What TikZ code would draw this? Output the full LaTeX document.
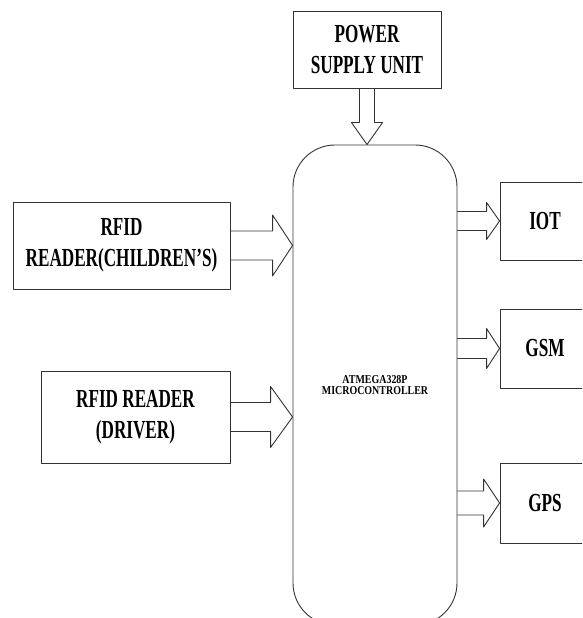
\documentclass[tikz,border=0pt]{standalone}
\usepackage{fontspec}
\usetikzlibrary{calc}
\newfontfamily\boxfont[FakeStretch=0.66]{Liberation Serif}
\newfontfamily\chipfont[FakeStretch=0.83]{Liberation Serif}

\tikzset{
	blk/.style={draw=black!80, line width=0.9pt, align=center, inner sep=0pt,
		font=\boxfont\bfseries\fontsize{26}{31}\selectfont},
	chip/.style={draw=black!80, line width=0.9pt, align=center, inner sep=0pt,
		rounded corners=42pt, font=\chipfont\bfseries\fontsize{12}{11.5}\selectfont},
	conn/.style={draw=black!80, line width=0.9pt}
}

% tail, tip, half shaft, half head, head length
\newcommand{\hollowarrow}[5]{%
	\path (#1) coordinate (aT) (#2) coordinate (aH);
	\path ($(aH)!#5pt!(aT)$) coordinate (aN);
	\draw[conn] ($(aT)!#3pt!90:(aH)$) -- ($(aN)!#3pt!90:(aH)$) -- ($(aN)!#4pt!90:(aH)$) -- (aH)
	-- ($(aN)!#4pt!-90:(aH)$) -- ($(aN)!#3pt!-90:(aH)$) -- ($(aT)!#3pt!-90:(aH)$);
}

\begin{document}
\begin{tikzpicture}[x=1pt, y=1pt, line join=round, line cap=round]
	\clip (0,0) rectangle (582,618);
	\node[blk, minimum width=148, minimum height=77] (pwr) at (367,568.5) {POWER\\SUPPLY UNIT};
	\node[chip, minimum width=164, minimum height=480] (mcu) at (375,233) {ATMEGA328P\\MICROCONTROLLER};
	\node[blk, minimum width=217, minimum height=87] (rfidc) at (121.5,372.5) {RFID\\READER(CHILDREN’S)};
	\node[blk, minimum width=189, minimum height=92] (rfidd) at (135.5,201) {RFID READER\\(DRIVER)};
	\node[blk, minimum width=90, minimum height=78] (iot) at (545,397) {IOT};
	\node[blk, minimum width=90, minimum height=79] (gsm) at (545,269.5) {GSM};
	\node[blk, minimum width=90, minimum height=80] (gps) at (545,115) {GPS};
	% power into the controller
	\hollowarrow{pwr.south}{pwr.south |- mcu.north}{7.5}{15.5}{22}
	% readers
	\foreach \src/\sh/\hd/\len in {rfidc/14.5/30.5/20, rfidd/14.5/30.5/22}{
		\hollowarrow{\src.east}{\src.east -| mcu.west}{\sh}{\hd}{\len}}
	% outputs
	\foreach \dst/\sh/\hd/\len in {iot/9.5/18.5/13, gsm/10/20/13, gps/12/24/16}{
		\hollowarrow{\dst.west -| mcu.east}{\dst.west}{\sh}{\hd}{\len}}
\end{tikzpicture}
\end{document}
